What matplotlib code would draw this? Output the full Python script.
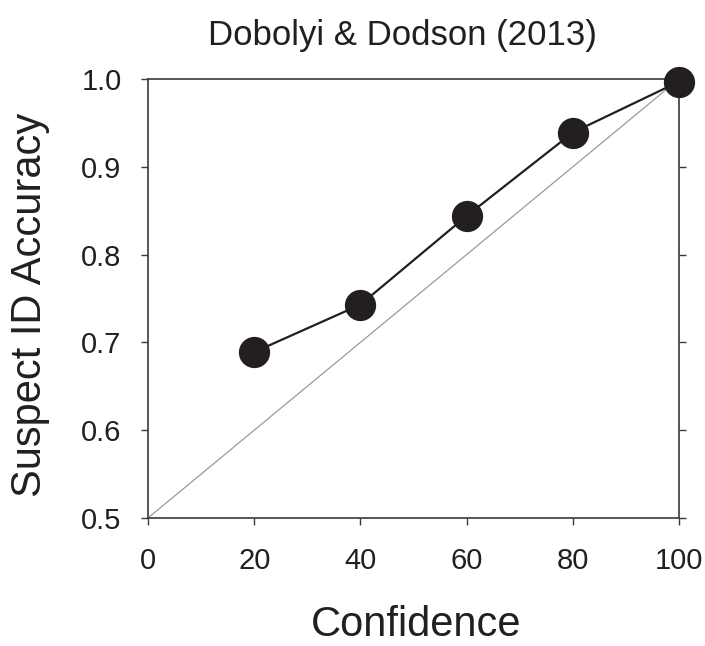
import matplotlib
matplotlib.use("Agg")
import matplotlib.pyplot as plt

confidence = [20, 40, 60, 80, 100]
accuracy = [0.689, 0.743, 0.844, 0.939, 0.997]
diag_x = [0, 100]
diag_y = [0.5, 1.0]
x_ticks = [0, 20, 40, 60, 80, 100]
y_ticks = [0.5, 0.6, 0.7, 0.8, 0.9, 1.0]
y_ticklabels = ["0.5", "0.6", "0.7", "0.8", "0.9", "1.0"]
title = "Dobolyi & Dodson (2013)"
xlabel = "Confidence"
ylabel = "Suspect ID Accuracy"

plt.rcParams['font.family'] = ['Liberation Sans', 'DejaVu Sans']

fig = plt.figure(figsize=(7.05, 6.46), dpi=100)
ax = fig.add_axes([148/705, 1-518/646, (679-148)/705, (518-79)/646])

ax.plot(diag_x, diag_y, color='#9a9a9a', lw=0.9, zorder=1, clip_on=False)
ax.plot(confidence, accuracy, color='#231f20', lw=1.6, marker='o', markersize=21.5,
        markerfacecolor='#231f20', markeredgecolor='#231f20', zorder=3, clip_on=False)

ax.set_xlim(0, 100)
ax.set_ylim(0.5, 1.0)
ax.set_xticks(x_ticks)
ax.set_yticks(y_ticks)
ax.set_yticklabels(y_ticklabels)

for s in ax.spines.values():
    s.set_color('#3a3a3a')
    s.set_linewidth(1.2)

ax.tick_params(axis='both', direction='out', length=5, width=1, color='#3a3a3a',
               labelsize=21, labelcolor='#231f20')
ax.tick_params(axis='x', pad=16)
ax.tick_params(axis='y', pad=14, right=True, labelright=False)

fig.text(402/705, 1-36/646, title, fontsize=25, color='#231f20', ha='center', va='center')
fig.text(416/705, 1-636/646, xlabel, fontsize=30, color='#231f20', ha='center', va='baseline')
fig.text(30/705, 1-305/646, ylabel, fontsize=30, color='#231f20', ha='center', va='center',
         rotation=90)

fig.savefig("out.png", dpi=100)
